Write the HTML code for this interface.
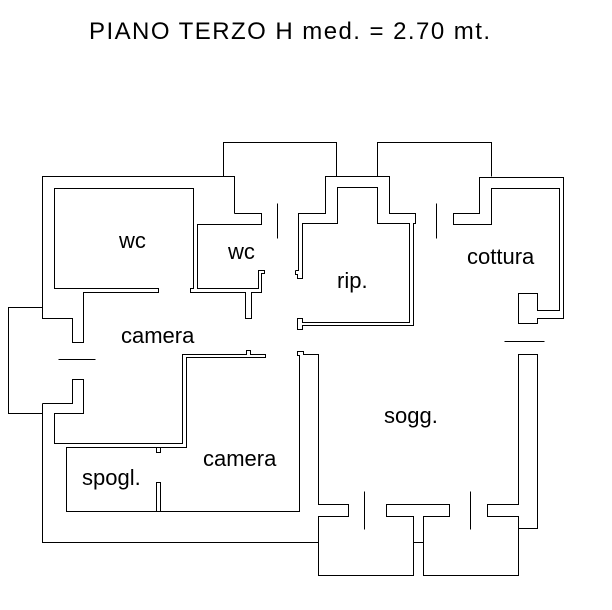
<!DOCTYPE html>
<html><head><meta charset="utf-8"><style>
html,body{margin:0;padding:0;background:#fff;}
svg{display:block;}
text{font-family:"Liberation Sans",Arial,sans-serif;fill:#000;}
</style></head><body>
<svg width="612" height="610" viewBox="0 0 612 610" xmlns="http://www.w3.org/2000/svg">
<rect width="612" height="610" fill="#fff"/>
<text x="89" y="39" font-size="24" textLength="401" lengthAdjust="spacing">PIANO TERZO H med. = 2.70 mt.</text>
<g transform="translate(0.5,0.5)" fill="none" stroke="#000" stroke-width="1">
<!-- upper left block: wc rooms -->
<polyline points="234,213 234,176 42,176 42,318 72,318 72,342 83,342 83,292 158,292 158,288 54,288 54,188 193,188 193,288 190,288 190,292 245,292 245,318 251,318 251,292 261,292 261,273 264,273 264,270 258,270 258,288 197,288 197,224 261,224 261,213 234,213"/>
<!-- left bump -->
<polyline points="42,307 8,307 8,413 42,413"/>
<!-- lower main wall chain -->
<polyline points="42,403 72,403 72,379 83,379 83,413 54,413 54,443 182,443 182,354 246,354 246,350 250,350 250,354 265,354 265,357 186,357 186,447 66,447 66,511 299,511 299,355 297,355 297,351 303,351 303,354 318,354 318,504 348,504 348,516 318,516 318,575 413,575 413,516 386,516 386,504 449,504 449,516 423,516 423,575 518,575 518,516 487,516 487,504 518,504 518,354 537,354 537,528 518,528"/>
<polyline points="42,403 42,542 318,542"/>
<line x1="413" y1="542" x2="423" y2="542"/>
<line x1="290" y1="511" x2="299" y2="511"/>
<!-- spogl partition -->
<polyline points="156,511 156,482 160,482 160,511"/>
<polyline points="156,447 156,452 160,452 160,447"/>
<!-- windows -->
<line x1="58" y1="359" x2="95" y2="359"/>
<line x1="504" y1="341" x2="544" y2="341"/>
<!-- stair blocks -->
<polyline points="223,176 223,142 336,142 336,176"/>
<polyline points="377,176 377,142 491,142 491,176"/>
<!-- rip -->
<polyline points="295,270 298,270 298,213 325,213 325,176 389,176 389,213 415,213 415,223 413,223 413,325 302,325 302,329 297,329 297,318 302,318 302,322 409,322 409,223 377,223 377,187 337,187 337,223 302,223 302,278 297,278 297,274 295,274 295,270"/>
<!-- cottura -->
<polygon points="453,213 479,213 479,177 563,177 563,318 537,318 537,323 518,323 518,293 537,293 537,310 559,310 559,188 491,188 491,224 453,224"/>
<!-- door stubs -->
<line x1="277" y1="203" x2="277" y2="238"/>
<line x1="436" y1="203" x2="436" y2="238"/>
<line x1="364" y1="491" x2="364" y2="529"/>
<line x1="470" y1="491" x2="470" y2="529"/>
</g>
<g font-size="22">
<text x="119" y="248">wc</text>
<text x="228" y="259">wc</text>
<text x="337" y="288">rip.</text>
<text x="467" y="264">cottura</text>
<text x="121" y="343">camera</text>
<text x="203" y="466">camera</text>
<text x="82" y="485">spogl.</text>
<text x="384" y="423">sogg.</text>
</g>
</svg>
</body></html>
